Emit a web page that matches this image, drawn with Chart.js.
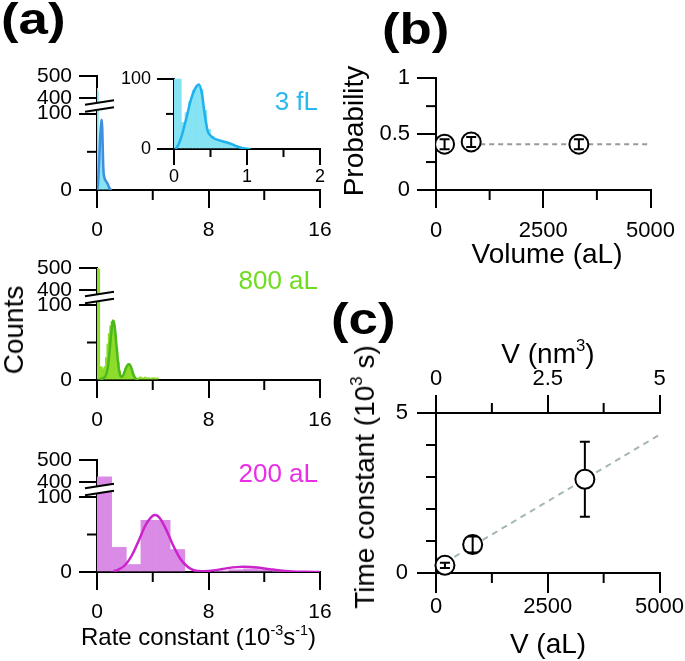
<!DOCTYPE html>
<html>
<head>
<meta charset="utf-8">
<script src="https://cdn.jsdelivr.net/npm/chart.js@4.4.1/dist/chart.umd.min.js"></script>
<style>
  body { margin: 0; width: 685px; height: 661px; position: relative; overflow: hidden; background: #fff;
         font-family: "Liberation Sans", Arial, Helvetica, sans-serif; }
  canvas { position: absolute; }
  .lbl { position: absolute; white-space: nowrap; line-height: 1; color: #000; }
  .rot { transform: translate(-50%, -50%) rotate(-90deg); }
  .panel { font-weight: bold; font-size: 44px; transform: scaleX(1.2); transform-origin: left top; }
  sup { font-size: 0.6em; vertical-align: 0.7em; line-height: 0; }
</style>
</head>
<body>
<canvas id="hist3" width="323" height="189" style="left:27px;top:56px"></canvas>
<canvas id="inset3" width="231" height="127" style="left:114px;top:62px"></canvas>
<canvas id="hist800" width="323" height="187" style="left:27px;top:248px"></canvas>
<canvas id="hist200" width="323" height="187" style="left:27px;top:440px"></canvas>
<canvas id="probChart" width="319" height="192" style="left:366px;top:58px"></canvas>
<canvas id="tauChart" width="319" height="285" style="left:366px;top:348px"></canvas>

<div class="lbl panel" style="left:1px;top:-3px">(a)</div>
<div class="lbl panel" style="left:382px;top:7px">(b)</div>
<div class="lbl panel" style="left:331px;top:297px">(c)</div>

<div class="lbl" style="right:367px;top:88px;font-size:26px;color:#2db8ec">3 fL</div>
<div class="lbl" style="right:367px;top:267px;font-size:26px;color:#6fdc1e">800 aL</div>
<div class="lbl" style="right:367px;top:460px;font-size:26px;color:#ea2ee6">200 aL</div>
<div class="lbl rot" style="left:14px;top:330px;font-size:28px">Counts</div>
<div class="lbl" style="left:81px;top:625px;font-size:24px">Rate constant (10<sup>-3</sup>s<sup>-1</sup>)</div>

<div class="lbl rot" style="left:354px;top:131px;font-size:28px">Probability</div>
<div class="lbl" style="left:547px;top:240px;font-size:28px;transform:translateX(-50%)">Volume (aL)</div>

<div class="lbl rot" style="left:365px;top:477px;font-size:28px">Time constant (10<sup>3</sup> s)</div>
<div class="lbl" style="left:548px;top:340px;font-size:28px;transform:translateX(-50%)">V (nm<sup>3</sup>)</div>
<div class="lbl" style="left:548px;top:630px;font-size:28px;transform:translateX(-50%)">V (aL)</div>

<script>
const FONT = "'Liberation Sans', Arial, Helvetica, sans-serif";

// ---- (a) 3 fL : bins of 0.05 (x 10^-3 s^-1)
const rate3fL  = [0.025, 0.075, 0.125, 0.175, 0.225, 0.275, 0.325, 0.375, 0.425, 0.475,
                  0.525, 0.575, 0.625, 0.675, 0.725, 0.775, 0.825, 0.875, 0.925, 0.975];
const count3fL = [445, 430, 38, 52, 68, 84, 90, 85, 55, 28, 18, 14, 12, 10, 8, 7, 5, 4, 2, 1];
const fitRate3fL  = [0.02, 0.06, 0.1, 0.14, 0.18, 0.22, 0.26, 0.3, 0.34, 0.38, 0.42, 0.46, 0.5,
                     0.55, 0.6, 0.65, 0.7, 0.75, 0.8, 0.85, 0.9, 0.95, 1.0, 1.05];
const fitCount3fL = [0, 6, 17, 32, 48, 66, 79, 88, 92, 80, 50, 26, 19, 15, 13, 11.5, 10, 8.5,
                     6.5, 4, 2.5, 1, 0.3, 0];

// ---- (a) 800 aL : bins of 0.1
const rate800aL  = [0.05, 0.15, 0.25, 0.35, 0.45, 0.55, 0.65, 0.75, 0.85, 0.95, 1.05, 1.15,
                    1.25, 1.35, 1.45, 1.55, 1.65, 1.75, 1.85, 1.95, 2.05, 2.15, 2.25, 2.35,
                    2.45, 2.55, 2.65, 2.75, 2.85, 2.95, 3.05, 3.15, 3.25, 3.35, 3.45, 3.55,
                    3.65, 3.75, 3.85, 3.95, 4.05, 4.15, 4.25, 4.35];
const count800aL = [505, 495, 18, 17, 15, 18, 30, 48, 62, 72, 78, 80,
                    74, 60, 42, 24, 12, 6, 7, 11, 16, 20, 22, 20,
                    15, 9, 5, 3, 2, 2, 4, 4, 3, 3, 4, 3,
                    3, 3, 2, 3, 3, 3, 2, 3];
const fitRate800aL  = [0.2, 0.4, 0.5, 0.6, 0.7, 0.8, 0.9, 1.0, 1.1, 1.15, 1.2, 1.3, 1.4, 1.5,
                       1.6, 1.7, 1.8, 1.9, 2.0, 2.1, 2.2, 2.3, 2.4, 2.5, 2.6, 2.7, 2.8, 2.9, 3.0];
const fitCount800aL = [1, 2, 3, 5, 10, 20, 38, 58, 75, 79, 78, 66, 45, 25,
                       11, 5, 4.5, 7, 12, 17, 20, 21, 19, 14, 8, 4, 1.5, 0.5, 0];

// ---- (a) 200 aL : bins of 1.05
const rate200aL  = [0.525, 1.575, 2.625, 3.675, 4.725, 5.775, 8.925, 9.975, 11.025, 12.075, 13.125];
const count200aL = [423, 33, 10, 69, 69, 30, 1, 3, 4, 3, 1];
const fitRate200aL  = [1.2, 1.5, 2.0, 2.5, 3.0, 3.5, 4.0, 4.2, 4.5, 5.0, 5.5, 6.0, 6.5, 7.0, 7.5,
                       8.0, 8.5, 9.0, 9.5, 10.0, 10.5, 11.0, 11.5, 12.0, 12.5, 13.0, 14.0, 15.0, 16.0];
const fitCount200aL = [1, 3, 9, 22, 42, 63, 75, 76, 72, 55, 34, 17, 7, 2, 1,
                       1.5, 2.5, 4, 5.5, 6.5, 7, 6.8, 6, 4.8, 3.5, 2.3, 0.8, 0.2, 0];

// ---- (b), (c)
const volume = [200, 820, 3330];
const probability = [0.41, 0.43, 0.41];
const probabilityErr = [0.045, 0.045, 0.045];
const probFitVolume = [820, 5000];
const probFit = [0.41, 0.41];
const timeConstant = [0.24, 0.89, 2.93];
const timeConstantErr = [0.08, 0.25, 1.17];
const tauFitVolume = [200, 5000];
const tauFit = [0.33, 4.32];

const brokenTicks = [0, 50, 100, 400, 500];

function pts(xs, ys) { return xs.map((x, i) => ({ x: x, y: ys[i] })); }

// y scale with a break between 100 and 400
const LOW = 75 / 112, GAP = 15 / 112, HIGH = 22 / 112;
class BrokenScale extends Chart.LinearScale {
  getPixelForValue(v) {
    if (v === null || v === undefined || isNaN(v)) return NaN;
    let d;
    if (v <= 100) d = v / 100 * LOW;
    else if (v < 400) d = LOW + (v - 100) / 300 * GAP;
    else d = LOW + GAP + (v - 400) / 100 * HIGH;
    return this.getPixelForDecimal(d);
  }
  getValueForPixel(p) {
    const d = this.getDecimalForPixel(p);
    if (d <= LOW) return d / LOW * 100;
    if (d < LOW + GAP) return 100 + (d - LOW) / GAP * 300;
    return 400 + (d - LOW - GAP) / HIGH * 100;
  }
}
BrokenScale.id = 'broken';
BrokenScale.defaults = Chart.LinearScale.defaults;
Chart.register(BrokenScale);

// short unlabeled ticks
const minorTicks = {
  id: 'minorTicks',
  afterDraw(chart, args, opts) {
    const ctx = chart.ctx, len = opts.len || 10;
    ctx.save();
    ctx.strokeStyle = '#000';
    ctx.lineWidth = 2;
    Object.values(chart.scales).forEach(s => {
      s.ticks.forEach((t, i) => {
        if (t.label !== '') return;
        const p = s.getPixelForTick(i);
        ctx.beginPath();
        if (s.position === 'left') { ctx.moveTo(s.right - len, p); ctx.lineTo(s.right, p); }
        else if (s.position === 'bottom') { ctx.moveTo(p, s.top); ctx.lineTo(p, s.top + len); }
        else if (s.position === 'top') { ctx.moveTo(p, s.bottom); ctx.lineTo(p, s.bottom - len); }
        ctx.stroke();
      });
    });
    ctx.restore();
  }
};

// the // marks of the broken axis
const breakMarks = {
  id: 'breakMarks',
  afterDraw(chart) {
    const y = chart.scales.y;
    if (!y || y.type !== 'broken') return;
    const ctx = chart.ctx;
    const mid = (y.getPixelForValue(100) + y.getPixelForValue(400)) / 2;
    const x0 = y.right - 12, x1 = y.right + 17, tilt = 2.2, gap = 3.5;
    ctx.save();
    ctx.fillStyle = '#fff';
    ctx.beginPath();
    ctx.moveTo(x0, mid + gap + tilt);
    ctx.lineTo(x1, mid + gap - tilt);
    ctx.lineTo(x1, mid - gap - tilt);
    ctx.lineTo(x0, mid - gap + tilt);
    ctx.closePath();
    ctx.fill();
    ctx.strokeStyle = '#000';
    ctx.lineWidth = 2;
    ctx.beginPath();
    ctx.moveTo(x0, mid + gap + tilt); ctx.lineTo(x1, mid + gap - tilt);
    ctx.moveTo(x0, mid - gap + tilt); ctx.lineTo(x1, mid - gap - tilt);
    ctx.stroke();
    ctx.restore();
  }
};

// vertical error bars, dataset.errY
const errorBars = {
  id: 'errorBars',
  afterDatasetsDraw(chart) {
    const ctx = chart.ctx;
    chart.data.datasets.forEach((ds, di) => {
      if (!ds.errY) return;
      const meta = chart.getDatasetMeta(di);
      const ys = chart.scales[meta.yAxisID];
      const r = ds.pointRadius, cap = 5;
      ctx.save();
      ctx.strokeStyle = '#000';
      ctx.lineWidth = 2;
      meta.data.forEach((pt, i) => {
        const v = ds.data[i].y, e = ds.errY[i];
        const top = ys.getPixelForValue(v + e), bot = ys.getPixelForValue(v - e);
        ctx.beginPath();
        if (pt.y - top > r * 1.5) {
          ctx.moveTo(pt.x, top); ctx.lineTo(pt.x, pt.y - r);
          ctx.moveTo(pt.x, pt.y + r); ctx.lineTo(pt.x, bot);
        } else {
          ctx.moveTo(pt.x, top); ctx.lineTo(pt.x, bot);
        }
        ctx.moveTo(pt.x - cap, top); ctx.lineTo(pt.x + cap, top);
        ctx.moveTo(pt.x - cap, bot); ctx.lineTo(pt.x + cap, bot);
        ctx.stroke();
      });
      ctx.restore();
    });
  }
};

function axis(position, min, max, stepSize, isMajor, o) {
  const vertical = position === 'left';
  return {
    type: o.type || 'linear',
    position: position,
    min: min, max: max,
    offset: false,
    afterFit: s => { if (vertical) s.width = o.size; else s.height = o.size; },
    afterBuildTicks: o.ticks ? s => { s.ticks = o.ticks.map(v => ({ value: v })); } : undefined,
    border: { display: true, color: '#000', width: 2 },
    grid: {
      display: true, drawOnChartArea: false, offset: false, lineWidth: 2,
      tickLength: o.tick || 18,
      tickColor: c => (c.tick && isMajor(c.tick.value)) ? '#000' : 'rgba(0,0,0,0)'
    },
    ticks: {
      stepSize: stepSize, autoSkip: false, maxRotation: 0, color: '#000',
      padding: o.pad, font: { family: FONT, size: o.font || 21 },
      callback: v => isMajor(v) ? String(v) : ''
    }
  };
}

const every = step => v => Math.abs(v / step - Math.round(v / step)) < 1e-9;

function histChart(id, bx, by, fx, fy, barColor, lineColor) {
  return new Chart(document.getElementById(id), {
    type: 'bar',
    data: {
      datasets: [
        { type: 'line', data: pts(fx, fy), borderColor: lineColor, borderWidth: 2.5,
          pointRadius: 0, cubicInterpolationMode: 'monotone', fill: false, order: 0 },
        { type: 'bar', data: pts(bx, by), backgroundColor: barColor, borderWidth: 0,
          categoryPercentage: 1, barPercentage: 1, order: 1 }
      ]
    },
    options: {
      responsive: false, animation: false,
      layout: { autoPadding: false, padding: { left: 0, top: 20, right: 30, bottom: 0 } },
      plugins: { legend: { display: false }, tooltip: { enabled: false }, minorTicks: { len: 10 } },
      scales: {
        x: axis('bottom', 0, 16, 4, every(8), { size: 55, pad: 10 }),
        y: axis('left', 0, 500, null, v => v !== 50, { type: 'broken', ticks: brokenTicks, size: 70, pad: 7 })
      }
    },
    plugins: [minorTicks, breakMarks]
  });
}

histChart('hist3', rate3fL, count3fL, fitRate3fL, fitCount3fL, '#86e3f3', '#3f8fe0');
histChart('hist800', rate800aL, count800aL, fitRate800aL, fitCount800aL, '#8ddc2a', '#4cb81a');
histChart('hist200', rate200aL, count200aL, fitRate200aL, fitCount200aL, '#d98be6', '#cc22cc');

// inset of the 3 fL histogram
new Chart(document.getElementById('inset3'), {
  type: 'bar',
  data: {
    datasets: [
      { type: 'line', data: pts(fitRate3fL, fitCount3fL), borderColor: '#1fb1ee', borderWidth: 2.5,
        pointRadius: 0, cubicInterpolationMode: 'monotone', fill: false, order: 0 },
      { type: 'bar', data: pts(rate3fL, count3fL), backgroundColor: '#86e3f3', borderWidth: 0,
        categoryPercentage: 1, barPercentage: 1, order: 1 }
    ]
  },
  options: {
    responsive: false, animation: false,
    layout: { autoPadding: false, padding: { left: 0, top: 15, right: 25, bottom: 0 } },
    plugins: { legend: { display: false }, tooltip: { enabled: false }, minorTicks: { len: 8 } },
    scales: {
      x: axis('bottom', 0, 2, 0.5, every(1), { size: 40, pad: 1, font: 18, tick: 16 }),
      y: axis('left', 0, 100, 50, every(100), { size: 60, pad: 6, font: 18, tick: 17 })
    }
  },
  plugins: [minorTicks]
});

// (b) probability vs volume
new Chart(document.getElementById('probChart'), {
  type: 'scatter',
  data: {
    datasets: [
      { data: pts(volume, probability), errY: probabilityErr, pointRadius: 9.5, borderWidth: 2,
        pointBackgroundColor: '#fff', pointBorderColor: '#000', order: 0 },
      { type: 'line', data: pts(probFitVolume, probFit), borderColor: '#999', borderWidth: 2,
        borderDash: [5, 4], pointRadius: 0, fill: false, order: 1 }
    ]
  },
  options: {
    responsive: false, animation: false,
    layout: { autoPadding: false, padding: { left: 0, top: 20, right: 25, bottom: 0 } },
    plugins: { legend: { display: false }, tooltip: { enabled: false }, minorTicks: { len: 10 } },
    scales: {
      x: axis('bottom', 0, 5000, 1250, every(2500), { size: 60, pad: 10, font: 22 }),
      y: axis('left', 0, 1, 0.25, every(0.5), { size: 70, pad: 7, font: 22, tick: 19 })
    }
  },
  plugins: [minorTicks, errorBars]
});

// (c) time constant vs volume
new Chart(document.getElementById('tauChart'), {
  type: 'scatter',
  data: {
    datasets: [
      { data: pts(volume, timeConstant), errY: timeConstantErr, pointRadius: 9.5, borderWidth: 2,
        pointBackgroundColor: '#fff', pointBorderColor: '#000', order: 0, clip: false },
      { type: 'line', data: pts(tauFitVolume, tauFit), borderColor: '#a3b5b5', borderWidth: 2,
        borderDash: [6, 5], pointRadius: 0, fill: false, order: 1 }
    ]
  },
  options: {
    responsive: false, animation: false,
    layout: { autoPadding: false, padding: { left: 0, top: 10, right: 25, bottom: 0 } },
    plugins: { legend: { display: false }, tooltip: { enabled: false }, minorTicks: { len: 10 } },
    scales: {
      x: axis('bottom', 0, 5000, 1250, every(2500), { size: 60, pad: 1, font: 22, tick: 20 }),
      x2: Object.assign(axis('top', 0, 5, 1.25, every(2.5), { size: 55, pad: 3, font: 22 }), { axis: 'x' }),
      y: axis('left', 0, 5, 1, every(5), { size: 70, pad: 9, font: 22, tick: 19 })
    }
  },
  plugins: [minorTicks, errorBars]
});
</script>
</body>
</html>
